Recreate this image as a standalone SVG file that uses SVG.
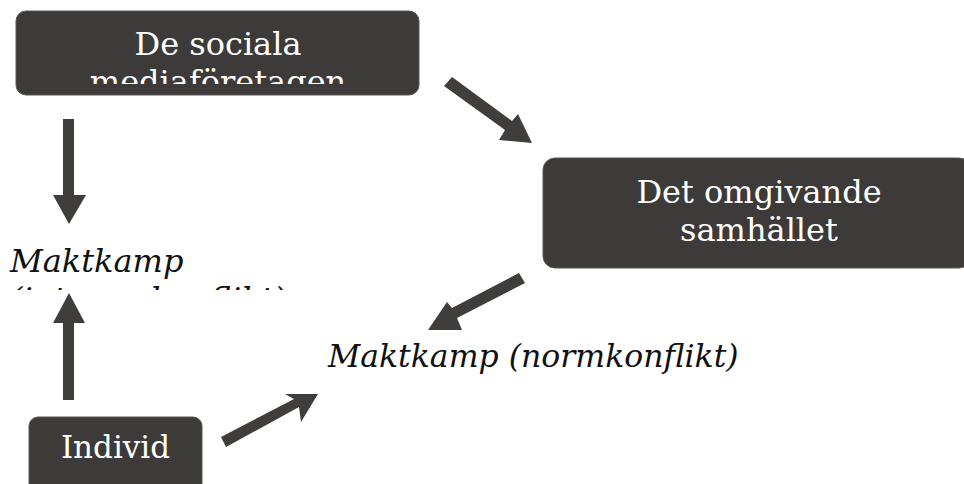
<svg xmlns="http://www.w3.org/2000/svg" width="964" height="484" viewBox="0 0 964 484">
<style>
.box{fill:#3d3b39;stroke:#5a5856;stroke-width:1}
.bt{font-family:"DejaVu Serif",serif;font-size:32px;fill:#ffffff;text-anchor:middle}
.it{font-family:"DejaVu Serif",serif;font-size:32px;font-style:italic;fill:#111111}
.arr{fill:#3f3e3d}
</style>
<defs>
<clipPath id="c1"><rect x="16" y="11" width="404" height="73"/></clipPath>
<clipPath id="c2"><rect x="0" y="240" width="330" height="50"/></clipPath>
</defs>
<rect width="964" height="484" fill="#ffffff"/>
<g id="node-sociala">
<rect class="box" x="16" y="11" width="403" height="84" rx="10"/>
<g clip-path="url(#c1)">
<text class="bt" x="218" y="55">De sociala</text>
<text class="bt" x="218" y="93">mediaföretagen</text>
</g>
</g>
<g id="node-samhallet">
<rect class="box" x="543" y="158" width="428" height="110" rx="12"/>
<text class="bt" x="759" y="203">Det omgivande</text>
<text class="bt" x="759" y="241">samhället</text>
</g>
<g id="node-intern">
<g clip-path="url(#c2)">
<text class="it" x="10" y="272">Maktkamp</text>
<text class="it" x="10" y="310">(interna konflikt)</text>
</g>
</g>
<g id="node-norm">
<text class="it" x="328" y="367" style="font-size:31.5px">Maktkamp (normkonflikt)</text>
</g>
<g id="node-individ">
<rect class="box" x="29" y="417" width="173" height="80" rx="9"/>
<text class="bt" x="115.5" y="458" style="font-size:31px">Individ</text>
</g>
<g id="connectors">
<polygon class="arr" points="63,119 74,119 74,195 86,195 69,224 53,195 63,195"/>
<polygon class="arr" points="63,400 74,400 74,323 85,323 69,293 53,323 63,323"/>
<polygon class="arr" points="221,437 226,447 299,407 301,422 318,394 285,394 294,399"/>
<polygon class="arr" points="452,77 444,86 505,130 499,140 532,143 518,114 512,121"/>
<polygon class="arr" points="519,273 525,283 457,318 462,330 428,330 447,302 452,308"/>
</g>
</svg>
